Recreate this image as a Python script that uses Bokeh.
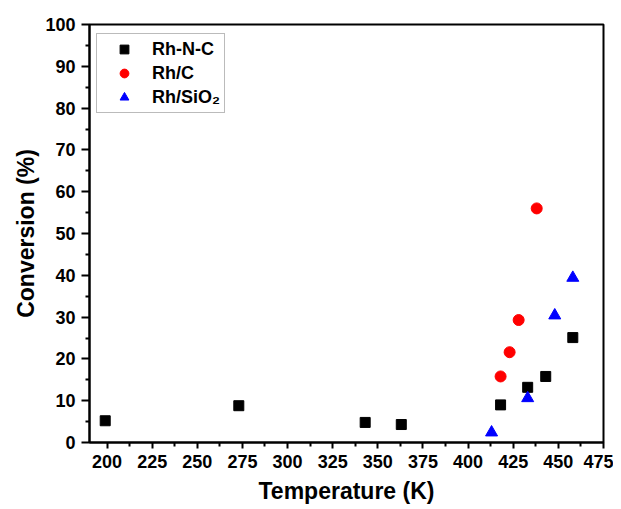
from bokeh.plotting import figure
from bokeh.models import Range1d, FixedTicker, Legend, LegendItem
from bokeh.embed import file_html
from bokeh.resources import INLINE

rhnc_t = [199, 273, 343, 363, 418, 433, 443, 458]
rhnc_v = [5.2, 8.8, 4.8, 4.3, 9.0, 13.2, 15.8, 25.1]
rhc_t = [418, 423, 428, 438]
rhc_v = [15.8, 21.6, 29.3, 56.0]
rhsio_t = [413, 433, 448, 458]
rhsio_v = [2.4, 10.6, 30.4, 39.4]

x_ticks = [200, 225, 250, 275, 300, 325, 350, 375, 400, 425, 450, 475]
y_ticks = [0, 10, 20, 30, 40, 50, 60, 70, 80, 90, 100]

FONT = "Liberation Sans"

p = figure(width=613, height=509, output_backend="svg", toolbar_location=None,
           x_range=Range1d(190.3, 475), y_range=Range1d(0, 100),
           min_border_left=89, min_border_right=10, min_border_top=24, min_border_bottom=67)
p.xgrid.visible = False
p.ygrid.visible = False
p.outline_line_color = "black"
p.outline_line_width = 2
p.background_fill_color = "white"
p.border_fill_color = "white"

p.xaxis.ticker = FixedTicker(ticks=x_ticks, minor_ticks=[t + 12.5 for t in x_ticks[:-1]])
p.yaxis.ticker = FixedTicker(ticks=y_ticks, minor_ticks=[t + 5 for t in y_ticks[:-1]])

for ax in (p.xaxis[0], p.yaxis[0]):
    ax.axis_line_width = 2
    ax.axis_line_color = "black"
    ax.major_tick_line_width = 2
    ax.minor_tick_line_width = 2
    ax.major_tick_in = 0
    ax.minor_tick_in = 0
    ax.minor_tick_out = 4
    ax.major_label_text_font = FONT
    ax.major_label_text_font_style = "bold"
    ax.major_label_text_font_size = "18px"
    ax.major_label_text_color = "black"
    ax.axis_label_text_font = FONT
    ax.axis_label_text_font_style = "bold"
    ax.axis_label_text_font_size = "23px"
    ax.axis_label_text_color = "black"

p.xaxis.major_tick_out = 6
p.yaxis.major_tick_out = 8
p.xaxis.axis_label = "Temperature (K)"
p.yaxis.axis_label = "Conversion (%)"
p.xaxis.major_label_standoff = 6
p.yaxis.major_label_standoff = 6
p.xaxis.axis_label_standoff = 7
p.yaxis.axis_label_standoff = 3

r1 = p.scatter(rhnc_t, rhnc_v, marker="square", size=10, color="black")
r2 = p.scatter(rhc_t, rhc_v, marker="circle", size=11, color="red")
r3 = p.scatter(rhsio_t, rhsio_v, marker="triangle", size=12, color="blue")

legend = Legend(items=[LegendItem(label="Rh-N-C", renderers=[r1]),
                       LegendItem(label="Rh/C", renderers=[r2]),
                       LegendItem(label="Rh/SiO\u2082", renderers=[r3])],
                location=(7, 329))
legend.label_text_font = FONT
legend.label_text_font_style = "bold"
legend.label_text_font_size = "18px"
legend.label_text_color = "black"
legend.border_line_color = "#777777"
legend.border_line_width = 1
legend.margin = 0
legend.padding = 4
legend.spacing = 2
legend.glyph_width = 46
legend.label_standoff = 5
legend.label_height = 22
legend.glyph_height = 22
p.add_layout(legend)

open("out.html", "w").write(file_html(p, INLINE))
